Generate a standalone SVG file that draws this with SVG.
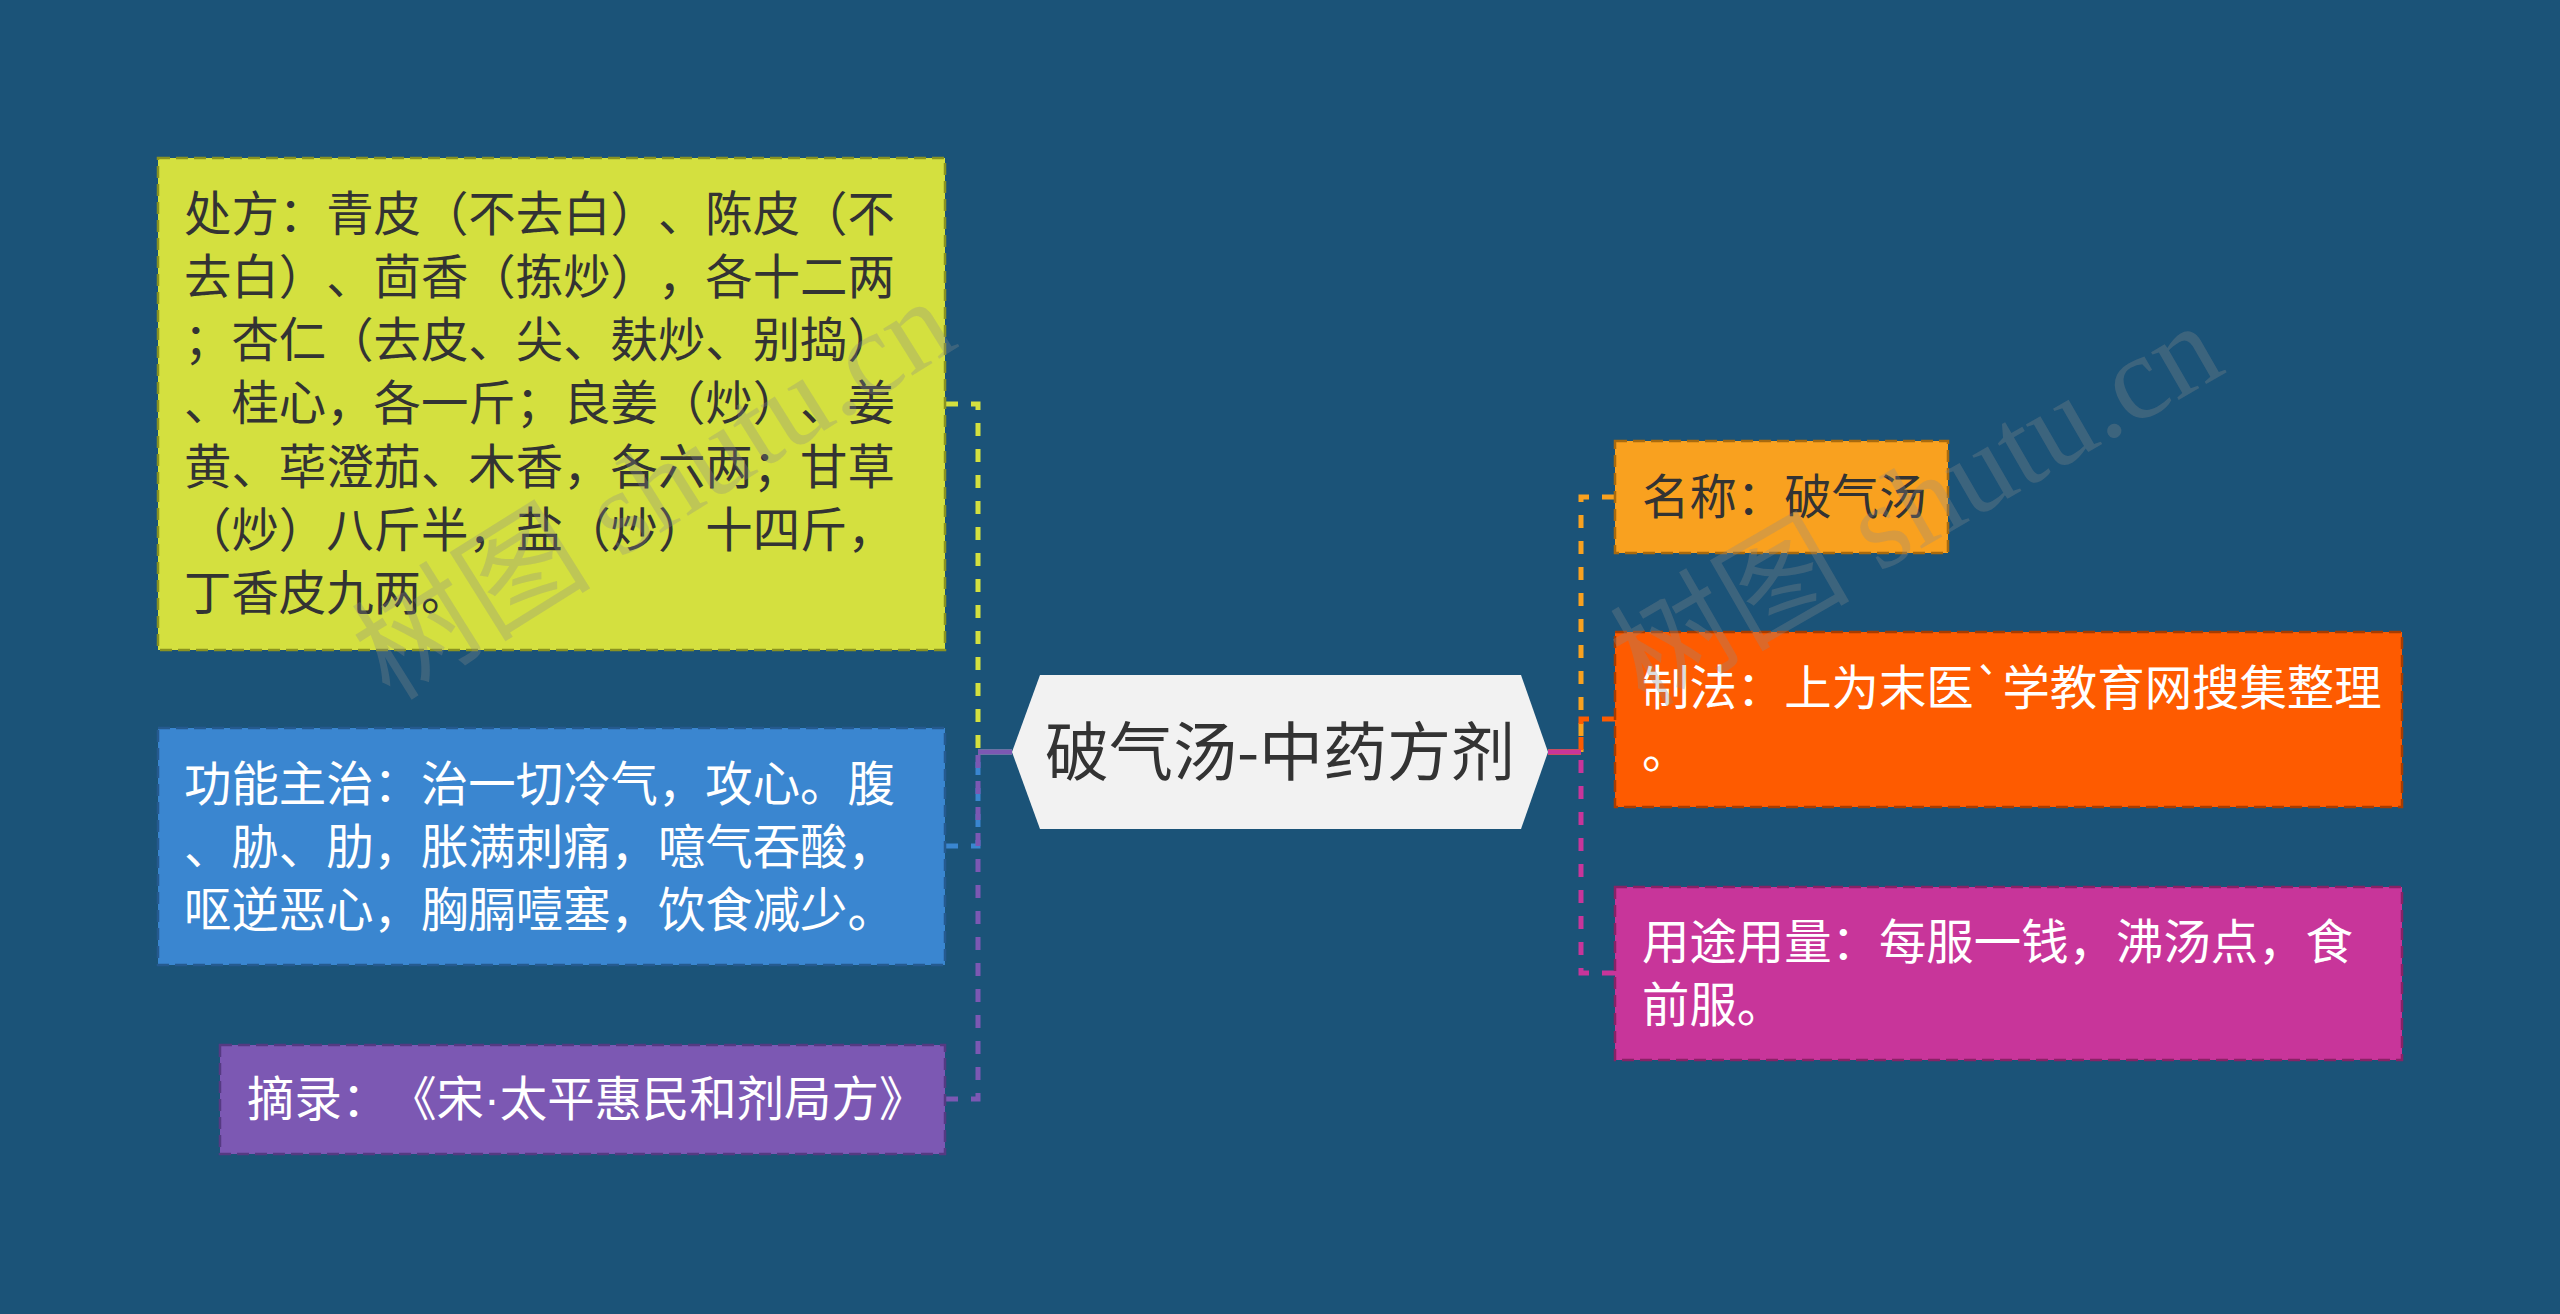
<svg xmlns="http://www.w3.org/2000/svg" width="2560" height="1314" viewBox="0 0 2560 1314">
<style>
.t{font-family:"Noto Sans CJK SC","Noto Sans",sans-serif;font-size:47.4px;text-spacing-trim:space-all;}
.dk{fill:#333333;}
.wt{fill:#ffffff;}
.box{stroke-width:2.5;stroke-dasharray:12 6;}
.con{fill:none;stroke-width:5;stroke-dasharray:13 13;}
.stub{fill:none;stroke-width:5;}
.wm{font-family:"Liberation Serif","Noto Sans CJK SC",serif;font-size:120px;fill:#8a8a8a;fill-opacity:0.3;}
.dot{font-family:"Liberation Sans",sans-serif;}
</style>
<rect x="0" y="0" width="2560" height="1314" fill="#1b5378"/>
<g id="connectors">
<path class="con" d="M945 404 H978 V752" stroke="#d4e03f"/>
<line class="stub" x1="978" y1="752" x2="1012" y2="752" stroke="#d4e03f"/>
<path class="con" d="M945 846 H978 V752" stroke="#3a86d0"/>
<line class="stub" x1="978" y1="752" x2="1012" y2="752" stroke="#3a86d0"/>
<path class="con" d="M945 1099 H978 V752" stroke="#7c58b3"/>
<line class="stub" x1="978" y1="752" x2="1012" y2="752" stroke="#7c58b3"/>
<path class="con" d="M1615 497 H1581 V752" stroke="#f9a11f"/>
<line class="stub" x1="1548" y1="752" x2="1581" y2="752" stroke="#f9a11f"/>
<path class="con" d="M1615 719 H1581 V752" stroke="#fe5b00"/>
<line class="stub" x1="1548" y1="752" x2="1581" y2="752" stroke="#fe5b00"/>
<path class="con" d="M1615 973 H1581 V752" stroke="#c8359a"/>
<line class="stub" x1="1548" y1="752" x2="1581" y2="752" stroke="#c8359a"/>
</g>
<g id="center">
<polygon points="1012,752 1040,675 1521,675 1548,752 1521,829 1040,829" fill="#f2f2f2"/>
<text x="1280" y="775" text-anchor="middle" class="t dk" style="font-size:64px">破气汤-中药方剂</text>
</g>
<g id="node-chufang">
<rect class="box" x="158" y="158" width="787" height="492" fill="#d4e03f" stroke="#8a9320"/>
<text class="t dk" x="184" y="231">处方：青皮（不去白）、陈皮（不</text>
<text class="t dk" x="184" y="294">去白）、茴香（拣炒），各十二两</text>
<text class="t dk" x="184" y="357">；杏仁（去皮、尖、麸炒、别捣）</text>
<text class="t dk" x="184" y="420">、桂心，各一斤；良姜（炒）、姜</text>
<text class="t dk" x="184" y="484">黄、荜澄茄、木香，各六两；甘草</text>
<text class="t dk" x="184" y="547">（炒）八斤半，盐（炒）十四斤，</text>
<text class="t dk" x="184" y="610">丁香皮九两。</text>
</g>
<g id="node-gongneng">
<rect class="box" x="158" y="728" width="787" height="237" fill="#3a86d0" stroke="#255a8f"/>
<text class="t wt" x="184" y="801">功能主治：治一切冷气，攻心。腹</text>
<text class="t wt" x="184" y="864">、胁、肋，胀满刺痛，噫气吞酸，</text>
<text class="t wt" x="184" y="927">呕逆恶心，胸膈噎塞，饮食减少。</text>
</g>
<g id="node-zhailu">
<rect class="box" x="220" y="1045" width="725" height="109" fill="#7c58b3" stroke="#553a82"/>
<text class="t wt" x="247" y="1116">摘录：《宋<tspan class="dot">·</tspan>太平惠民和剂局方》</text>
</g>
<g id="node-mingcheng">
<rect class="box" x="1615" y="441" width="333" height="112" fill="#f9a11f" stroke="#a86a0e"/>
<text class="t dk" x="1642" y="514">名称：破气汤</text>
</g>
<g id="node-zhifa">
<rect class="box" x="1615" y="632" width="787" height="175" fill="#fe5b00" stroke="#a83c00"/>
<text class="t wt" x="1642" y="705">制法：上为末医`学教育网搜集整理</text>
<text class="t wt" x="1642" y="768">。</text>
</g>
<g id="node-yongtu">
<rect class="box" x="1615" y="887" width="787" height="173" fill="#c8359a" stroke="#882266"/>
<text class="t wt" x="1642" y="959">用途用量：每服一钱，沸汤点，食</text>
<text class="t wt" x="1642" y="1022">前服。</text>
</g>
<g id="watermark">
<text class="wm" x="390" y="702" transform="rotate(-32 390 702)">树图 shutu.cn</text>
<text class="wm" x="1645" y="708" transform="rotate(-30 1645 708)">树图 shutu.cn</text>
</g>
</svg>
